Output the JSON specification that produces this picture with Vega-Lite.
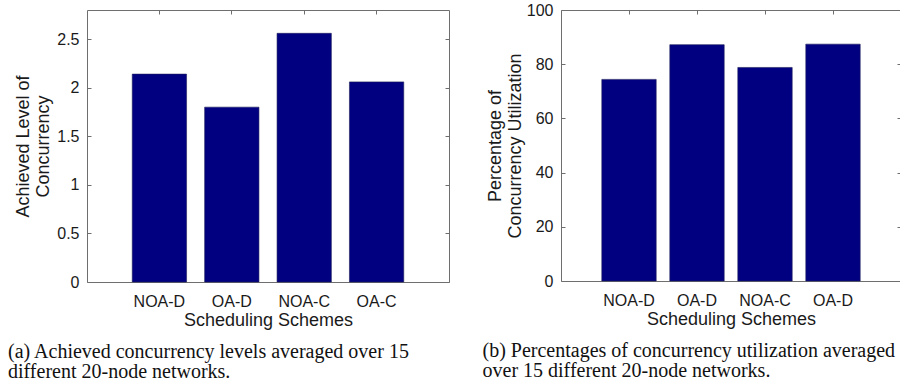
{
  "$schema": "https://vega.github.io/schema/vega-lite/v6.json",
  "padding": {"left": 7, "top": 1, "right": 1, "bottom": 2},
  "spacing": 32,
  "config": {
    "font": "Liberation Sans",
    "view": {"stroke": "#6e6e6e", "strokeWidth": 1},
    "axis": {
      "domain": false,
      "grid": false,
      "tickColor": "#6e6e6e",
      "tickSize": -4,
      "labelFont": "Liberation Sans",
      "labelFontSize": 16,
      "labelColor": "#1a1a1a",
      "titleFont": "Liberation Sans",
      "titleFontSize": 18,
      "titleFontWeight": "normal",
      "titleColor": "#1a1a1a"
    },
    "title": {
      "font": "Liberation Serif",
      "fontSize": 20,
      "fontWeight": "normal",
      "color": "#111111",
      "orient": "bottom",
      "anchor": "start",
      "frame": "group",
      "lineHeight": 20
    }
  },
  "hconcat": [
    {
      "width": 362,
      "height": 272,
      "title": {"text": ["(a) Achieved concurrency levels averaged over 15", "different 20-node networks."], "dx": -79, "offset": 13},
      "data": {"values": [
        {"idx": 1, "scheme": "NOA-D", "value": 2.14},
        {"idx": 2, "scheme": "OA-D", "value": 1.80},
        {"idx": 3, "scheme": "NOA-C", "value": 2.56},
        {"idx": 4, "scheme": "OA-C", "value": 2.06}
      ]},
      "layer": [
        {
          "mark": {"type": "bar", "color": "#000080", "stroke": "#1c1c5a", "strokeWidth": 0.6},
          "encoding": {
            "x": {"field": "scheme", "type": "nominal", "sort": null,
                  "scale": {"paddingInner": 0.25, "paddingOuter": 0.625},
                  "axis": {"labelAngle": 0, "labelPadding": 15, "title": "Scheduling Schemes", "titlePadding": 2}},
            "y": {"field": "value", "type": "quantitative",
                  "scale": {"domain": [0, 2.8], "nice": false},
                  "axis": {"values": [0, 0.5, 1, 1.5, 2, 2.5], "format": "~g", "labelPadding": 12, "title": ["Achieved Level of", "Concurrency"], "titlePadding": 4}}
          }
        },
        {
          "mark": {"type": "bar", "opacity": 0},
          "encoding": {
            "x": {"field": "scheme", "type": "nominal", "sort": null,
                  "axis": {"orient": "top", "labels": false, "title": null}},
            "y": {"field": "value", "type": "quantitative",
                  "axis": {"orient": "right", "values": [0, 0.5, 1, 1.5, 2, 2.5], "labels": false, "title": null}}
          }
        }
      ],
      "resolve": {"axis": {"x": "independent", "y": "independent"}}
    },
    {
      "width": 340,
      "height": 271,
      "title": {"text": ["(b) Percentages of concurrency utilization averaged", "over 15 different 20-node networks."], "dx": -78.5, "offset": 13},
      "data": {"values": [
        {"idx": 1, "scheme": "NOA-D", "value": 74.4},
        {"idx": 2, "scheme": "OA-D", "value": 87.2},
        {"idx": 3, "scheme": "NOA-C", "value": 78.8},
        {"idx": 4, "scheme": "OA-D", "value": 87.4}
      ]},
      "layer": [
        {
          "mark": {"type": "bar", "color": "#000080", "stroke": "#1c1c5a", "strokeWidth": 0.6},
          "encoding": {
            "x": {"field": "idx", "type": "ordinal", "sort": null,
                  "scale": {"paddingInner": 0.2, "paddingOuter": 0.6},
                  "axis": {"labelAngle": 0, "labelPadding": 15, "labelExpr": "['NOA-D','OA-D','NOA-C','OA-D'][datum.value-1]", "title": "Scheduling Schemes", "titlePadding": 2}},
            "y": {"field": "value", "type": "quantitative",
                  "scale": {"domain": [0, 100], "nice": false},
                  "axis": {"values": [0, 20, 40, 60, 80, 100], "labelPadding": 12, "title": ["Percentage of", "Concurrency Utilization"], "titlePadding": 2}}
          }
        },
        {
          "mark": {"type": "bar", "opacity": 0},
          "encoding": {
            "x": {"field": "idx", "type": "ordinal", "sort": null,
                  "axis": {"orient": "top", "labels": false, "title": null}},
            "y": {"field": "value", "type": "quantitative",
                  "axis": {"orient": "right", "values": [0, 20, 40, 60, 80, 100], "labels": false, "title": null}}
          }
        }
      ],
      "resolve": {"axis": {"x": "independent", "y": "independent"}}
    }
  ]
}
